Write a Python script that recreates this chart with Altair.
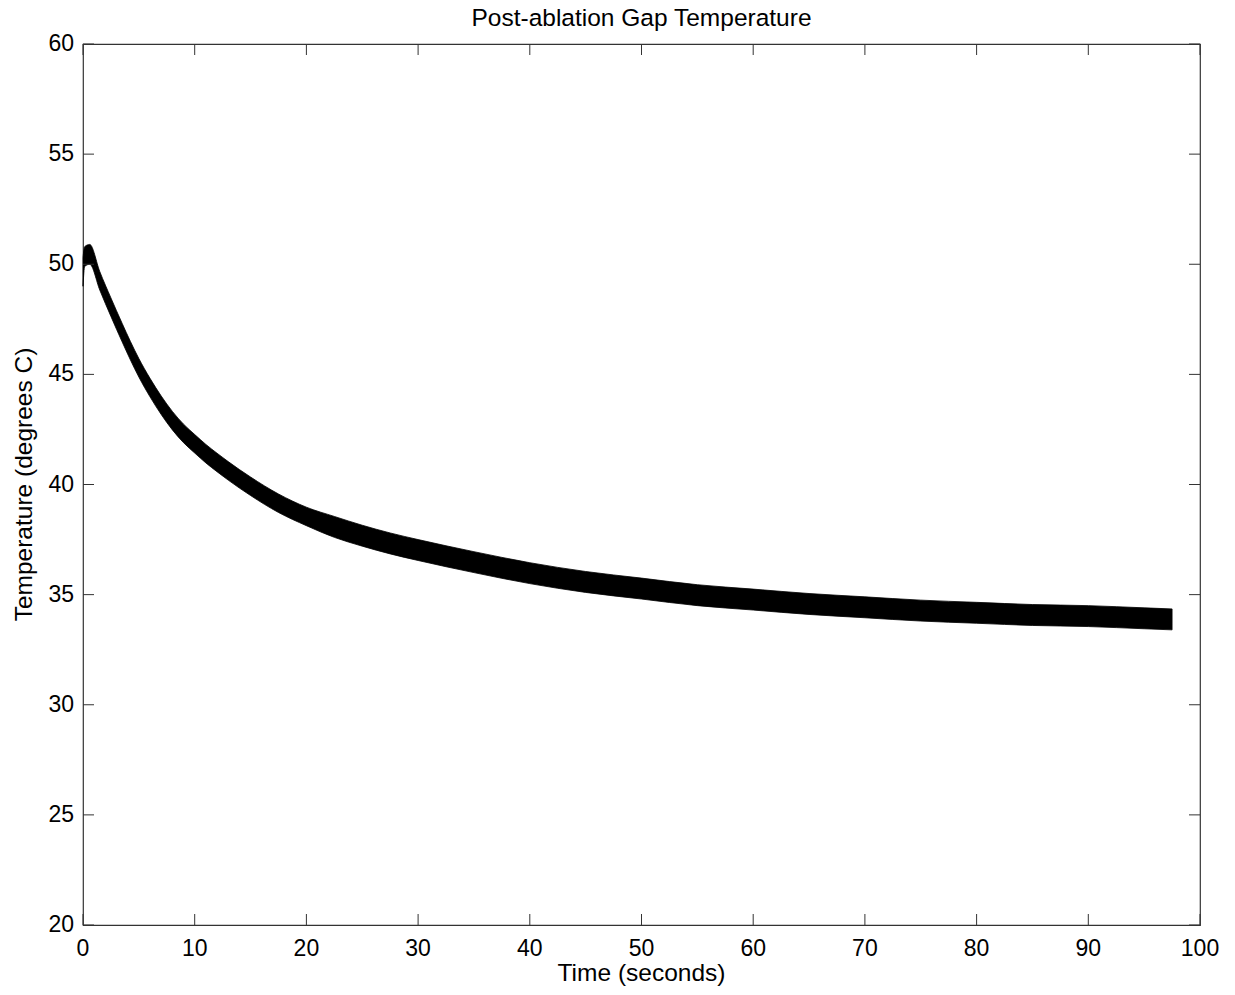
import altair as alt
import pandas as pd

# Data (envelope of the noisy trace)
time_s = [0, 0.15, 0.6, 1.5, 2.5, 3.5, 4.25, 5, 6, 7, 8, 9, 10, 11, 12, 13, 14, 15,
          17.5, 20, 22.5, 25, 27.5, 30, 35, 40, 45, 50, 55, 60, 65, 70, 75, 80, 85,
          90, 95, 97.5]
upper = [50.3, 50.8, 50.9, 49.67, 48.47, 47.32, 46.49, 45.72, 44.82, 44.02, 43.32, 42.74,
         42.27, 41.82, 41.42, 41.04, 40.68, 40.34, 39.57, 38.97, 38.55, 38.15, 37.8, 37.5,
         36.95, 36.45, 36.05, 35.75, 35.45, 35.25, 35.05, 34.9, 34.75, 34.65, 34.55, 34.5,
         34.4, 34.35]
lower = [49.0, 49.9, 50.0, 48.83, 47.63, 46.48, 45.65, 44.88, 43.98, 43.18, 42.48, 41.9,
         41.43, 40.98, 40.58, 40.2, 39.84, 39.5, 38.73, 38.13, 37.6, 37.2, 36.85, 36.55,
         36.0, 35.5, 35.1, 34.8, 34.5, 34.3, 34.1, 33.95, 33.8, 33.7, 33.6, 33.55,
         33.45, 33.4]
x_ticks = [0, 10, 20, 30, 40, 50, 60, 70, 80, 90, 100]
y_ticks = [20, 25, 30, 35, 40, 45, 50, 55, 60]
title_text = "Post-ablation Gap Temperature"
x_title = "Time (seconds)"
y_title = "Temperature (degrees C)"

W, H = 1117, 881
FONT = "Liberation Sans, Arial, Helvetica, sans-serif"
TICK = 11
FRAME = "#333333"

band_df = pd.DataFrame({"t": time_s, "lo": lower, "hi": upper})
xt_df = pd.DataFrame({"v": x_ticks})
yt_df = pd.DataFrame({"v": y_ticks})

xs = alt.Scale(domain=[0, 100], nice=False, zero=False)
ys = alt.Scale(domain=[20, 60], nice=False, zero=False)

band = alt.Chart(band_df).mark_area(
    color="black", stroke="black", strokeWidth=0.8, interpolate="monotone"
).encode(
    x=alt.X("t:Q", scale=xs, axis=None),
    y=alt.Y("hi:Q", scale=ys, axis=None),
    y2="lo:Q",
)

tick_b = alt.Chart(xt_df).mark_rule(color=FRAME, strokeWidth=1).encode(
    x=alt.X("v:Q", scale=xs, axis=None), y=alt.value(H), y2=alt.value(H - TICK))
tick_t = alt.Chart(xt_df).mark_rule(color=FRAME, strokeWidth=1).encode(
    x=alt.X("v:Q", scale=xs, axis=None), y=alt.value(0), y2=alt.value(TICK))
tick_l = alt.Chart(yt_df).mark_rule(color=FRAME, strokeWidth=1).encode(
    y=alt.Y("v:Q", scale=ys, axis=None), x=alt.value(0), x2=alt.value(TICK))
tick_r = alt.Chart(yt_df).mark_rule(color=FRAME, strokeWidth=1).encode(
    y=alt.Y("v:Q", scale=ys, axis=None), x=alt.value(W), x2=alt.value(W - TICK))

lab_x = alt.Chart(xt_df).mark_text(
    font=FONT, fontSize=23, color="black", baseline="top", align="center"
).encode(x=alt.X("v:Q", scale=xs, axis=None), y=alt.value(H + 13), text="v:Q")
lab_y = alt.Chart(yt_df).mark_text(
    font=FONT, fontSize=23, color="black", baseline="middle", align="right"
).encode(y=alt.Y("v:Q", scale=ys, axis=None), x=alt.value(-9), text="v:Q")

tx = alt.Chart(pd.DataFrame({"s": [x_title]})).mark_text(
    font=FONT, fontSize=24.5, color="black", baseline="alphabetic", align="center"
).encode(x=alt.value(W / 2), y=alt.value(H + 56), text="s:N")
ty = alt.Chart(pd.DataFrame({"s": [y_title]})).mark_text(
    font=FONT, fontSize=24.5, color="black", baseline="alphabetic", align="center", angle=270
).encode(x=alt.value(-51), y=alt.value(H / 2), text="s:N")
tt = alt.Chart(pd.DataFrame({"s": [title_text]})).mark_text(
    font=FONT, fontSize=24.5, color="black", baseline="alphabetic", align="center"
).encode(x=alt.value(W / 2), y=alt.value(-18), text="s:N")

chart = alt.layer(band, tick_b, tick_t, tick_l, tick_r, lab_x, lab_y, tx, ty, tt).properties(
    width=W, height=H,
    autosize=alt.AutoSizeParams(type="none"),
    padding={"left": 75, "top": 36, "right": 25, "bottom": 62},
).configure_view(
    stroke=FRAME, strokeWidth=1.2
)

chart.save("out.html", embed_options={"renderer": "svg", "actions": False})
